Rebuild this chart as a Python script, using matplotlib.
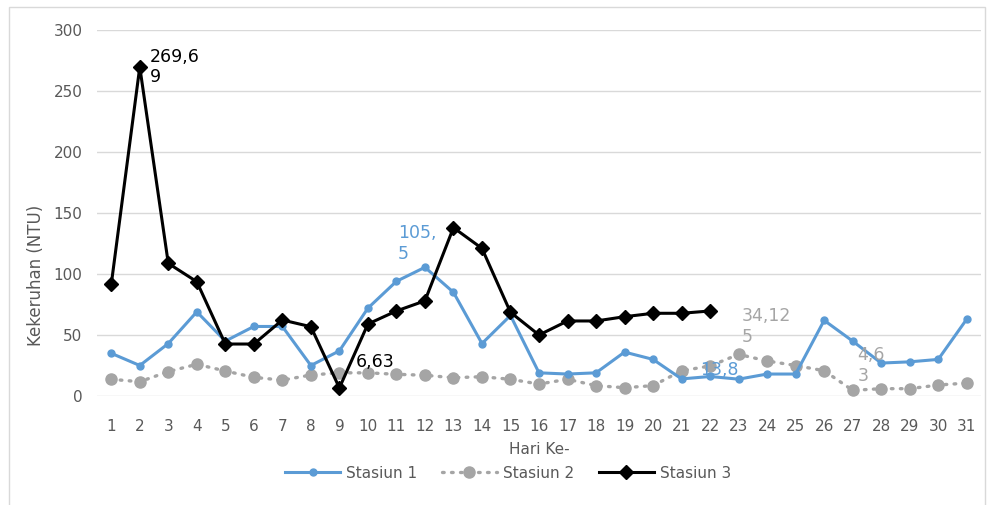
import matplotlib
matplotlib.use("Agg")
import matplotlib.pyplot as plt
from matplotlib.patches import Rectangle

days = list(range(1, 32))

stasiun_1 = [35, 25, 43, 69, 45, 57, 57, 25, 37, 72, 94, 105.5, 85, 43, 66,
             19, 18, 19, 36, 30, 14, 16, 13.8, 18, 18, 62, 45, 27, 28, 30, 63]
stasiun_2 = [13.7, 11.7, 20, 26, 20.5, 15.3, 13, 17.2, 19, 19, 17.8, 17, 15, 15.8, 13.7,
             9.8, 13.7, 8.5, 6.8, 8.5, 20.7, 24.6, 34.125, 28.7, 25, 20.7, 4.63, 6, 6, 9, 10.6]
stasiun_3 = [91.5, 269.69, 108.7, 93.7, 42.6, 42.6, 62.3, 56.8, 6.63, 59, 69.7, 78,
             138, 121, 68.6, 50, 61.5, 61.5, 65, 67.8, 67.8, 69.7]

series_names = ["Stasiun 1", "Stasiun 2", "Stasiun 3"]
y_ticks = [0, 50, 100, 150, 200, 250, 300]

BLUE = "#5B9BD5"
GRAY = "#A5A5A5"
TXT = "#595959"

plt.rcParams["font.family"] = ["DejaVu Sans"]

fig = plt.figure(figsize=(9.88, 5.05), dpi=100)
fig.patches.append(Rectangle((9 / 988, -0.01), 976 / 988, 1 - 7 / 505 + 0.01,
                             transform=fig.transFigure, fill=False,
                             edgecolor="#D9D9D9", linewidth=1.0))

ax = fig.add_axes([97 / 988, 1 - 396 / 505, 884 / 988, 366 / 505])

ax.plot(days, stasiun_1, color=BLUE, lw=2.2, marker="o", markersize=5,
        label=series_names[0], zorder=3)
ax.plot(days, stasiun_2, color=GRAY, lw=2.4, linestyle=(0, (0.5, 2.2)),
        dash_capstyle="round", marker="o", markersize=8,
        label=series_names[1], zorder=2)
ax.plot(days[:len(stasiun_3)], stasiun_3, color="black", lw=2.2, marker="D",
        markersize=7, label=series_names[2], zorder=4)

ax.set_xlim(0.5, 31.5)
ax.set_ylim(0, 300)
ax.set_xticks(days)
ax.set_yticks(y_ticks)
ax.grid(axis="y", color="#D9D9D9", lw=1)
ax.set_axisbelow(True)
for s in ax.spines.values():
    s.set_visible(False)
ax.tick_params(length=0, labelsize=11, colors=TXT)
ax.tick_params(axis="x", pad=16.5)
ax.tick_params(axis="y", pad=10.5)

ax.set_xlabel("Hari Ke-", fontsize=11, color=TXT, labelpad=6)
fig.text(36 / 988, 1 - 275 / 505, "Kekeruhan (NTU)", rotation=90,
         ha="center", va="center", fontsize=12, color=TXT)

# data labels
def label(x, y, text, color, dx, dy):
    ax.annotate(text, xy=(x, y), xytext=(dx, dy), textcoords="offset points",
                ha="left", va="center", fontsize=12.5, color=color,
                linespacing=1.2, zorder=5)

label(2, stasiun_3[1], "269,6\n9", "black", 7, 0)
label(9, stasiun_3[8], "6,63", "black", 11.5, 19)
label(12, stasiun_1[11], "105,\n5", BLUE, -19.5, 17)
label(23, stasiun_1[22], "13,8", BLUE, -28, 6.5)
label(23, stasiun_2[22], "34,12\n5", GRAY, 2, 20)
label(27, stasiun_2[26], "4,6\n3", GRAY, 3.6, 18)

fig.legend(loc="center", bbox_to_anchor=(508 / 988, 1 - 473 / 505), ncol=3,
           frameon=False, fontsize=11, handlelength=3.6, handletextpad=0.4,
           columnspacing=1.6, labelcolor=TXT)

fig.savefig("out.png", dpi=100)
